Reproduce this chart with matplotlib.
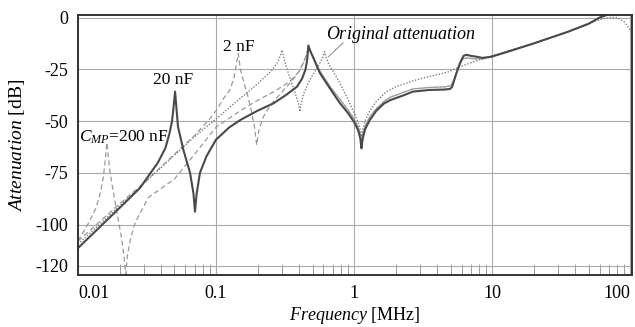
import matplotlib
matplotlib.use("Agg")
import matplotlib.pyplot as plt
from matplotlib.ticker import FixedLocator, LogLocator, NullFormatter

plt.rcParams["font.family"] = "Liberation Serif"
plt.rcParams["mathtext.fontset"] = "custom"
plt.rcParams["mathtext.rm"] = "Liberation Serif"
plt.rcParams["mathtext.it"] = "Liberation Serif:italic"
plt.rcParams["axes.unicode_minus"] = False

# original attenuation (dotted)
orig_f = [0.01, 0.02, 0.035, 0.05, 0.07, 0.1, 0.15, 0.2, 0.25, 0.28, 0.292, 0.30,
          0.307, 0.32, 0.35, 0.38, 0.398, 0.405, 0.412, 0.43, 0.47, 0.52, 0.57,
          0.595, 0.61, 0.625, 0.66, 0.75, 0.88, 1.0, 1.08, 1.11, 1.13, 1.15,
          1.2, 1.3, 1.45, 1.7, 2.0, 2.7, 3.5, 4.7, 6.0, 8.0, 10, 20, 35, 50, 60,
          70, 80, 90, 100, 103]
orig_db = [-109.5, -91, -76, -66.5, -57.5, -49, -39, -32, -26, -21.5, -18.5, -15.7,
           -18.5, -23, -31, -38, -42.5, -45.5, -42, -37, -31, -26, -21.5,
           -19, -16.5, -19, -23, -29, -38, -46, -51.5, -54.5, -57.5, -54.5,
           -50, -45, -40.5, -36, -33.5, -30.5, -28.5, -26.5, -23.5, -20.5, -18.8,
           -12.5, -7, -3, -1, 0, 0, -2, -6, -8]

# C_MP = 20 nF (thick solid)
c20_f = [0.01, 0.02, 0.028, 0.038, 0.043, 0.046, 0.048, 0.049, 0.0505, 0.052,
         0.053, 0.058, 0.0648, 0.0686, 0.0704, 0.0724, 0.0765, 0.0853, 0.1,
         0.125, 0.15, 0.2, 0.26, 0.32, 0.386, 0.42, 0.445, 0.458, 0.466, 0.48,
         0.507, 0.567, 0.68, 0.79, 0.9, 1.0, 1.07, 1.11, 1.13, 1.15, 1.2, 1.3,
         1.45, 1.65, 1.83, 2.3, 2.66, 3.5, 4.5, 4.96, 5.13, 5.5, 5.85, 6.2, 6.5,
         7, 7.8, 8.5, 9.8, 13, 20, 35, 50, 60, 80, 103]
c20_db = [-111.4, -92, -82.5, -70, -63, -56, -50, -44.7, -35.8, -46,
          -52.7, -64, -75, -85, -93.8, -85, -75, -67, -59,
          -53, -49.5, -45, -41.5, -37.5, -33.4, -29.5, -25, -20, -13.5, -16,
          -19.5, -27, -35, -41.4, -46, -50.5, -54.5, -58.5, -63.2, -59, -54, -49.5,
          -45, -41.5, -39.9, -37.5, -35.8, -35, -34.8, -34.5, -33.4, -27, -22, -18.5, -18,
          -18.5, -19, -19.5, -19, -16.5, -12.5, -7, -3, 0, 3, 3]

# C_MP = 200 nF (dashed)
c200_f = [0.01, 0.012, 0.0135, 0.0145, 0.0152, 0.0157, 0.016, 0.0162, 0.0165,
          0.017, 0.018, 0.019, 0.0205, 0.0215, 0.0222, 0.0228, 0.024, 0.026,
          0.0323, 0.05, 0.07, 0.1, 0.15, 0.2, 0.26, 0.34, 0.4, 0.44, 0.458, 0.47,
          0.49, 0.52, 0.567, 0.68, 0.8, 0.9, 1.0, 1.07, 1.11, 1.13, 1.15, 1.2,
          1.3, 1.45, 1.65, 1.83, 2.66, 3.5, 4.5, 5.0, 5.3, 5.7, 6.1, 6.5, 7.5,
          8.5, 10, 20, 35, 50, 60, 80, 103]
c200_db = [-108, -99, -92, -85, -78, -70, -64, -60.5, -66,
           -74, -84, -93, -105, -115, -124, -115, -107, -99,
           -87, -78, -66, -53, -45, -40, -36, -31, -26, -20, -16.5, -14,
           -17, -21, -26, -34, -40, -44.5, -49, -53, -57, -61, -57, -52.5,
           -48, -44, -40.5, -38.5, -34.5, -33.8, -33.5, -33, -30, -24, -20, -19.5, -20,
           -20, -18.5, -12.5, -7, -3, 0, 3, 3]

# C_MP = 2 nF (dashed)
c2_f = [0.01, 0.02, 0.03, 0.05, 0.07, 0.09, 0.1, 0.115, 0.126, 0.135, 0.14,
        0.1435, 0.145, 0.15, 0.16, 0.17, 0.18, 0.19, 0.197, 0.205, 0.22, 0.25,
        0.3, 0.35, 0.4, 0.44, 0.458, 0.47, 0.49, 0.52, 0.567, 0.68, 0.8, 0.9,
        1.0, 1.07, 1.11, 1.13, 1.15, 1.2, 1.3, 1.45, 1.65, 1.83, 2.66, 3.5, 4.5,
        5.0, 5.3, 5.7, 6.1, 6.5, 7.5, 8.5, 10, 20, 35, 50, 60, 80, 103]
c2_db = [-108, -90, -80, -66, -57, -49, -45, -38.5, -35, -29, -23,
         -19, -17.3, -25, -32, -38, -45, -53, -61.6, -54, -48, -42,
         -36, -31, -26, -20.5, -17, -14.5, -17.5, -21.5, -26, -34, -40, -44.5,
         -49, -53, -57, -61, -57, -52.5, -48, -44, -40.5, -38.5, -34.5, -33.8, -33.5,
         -33, -30, -24, -20, -19.5, -20, -20, -18.5, -12.5, -7, -3, 0, 3, 3]

y_ticks = [0, -25, -50, -75, -100, -120]
x_ticks = [0.01, 0.1, 1, 10, 100]
x_labels = ["0.01", "0.1", "1", "10", "100"]

fig = plt.figure(figsize=(6.35, 3.27), dpi=100)
ax = fig.add_axes([0.1228, 0.159, 0.8725, 0.795])

dash = (0, (4, 2.5))
ax.plot(c200_f, c200_db, color="#999999", lw=0.9, ls=dash)
ax.plot(c2_f, c2_db, color="#999999", lw=0.9, ls=dash)
ax.plot(orig_f, orig_db, color="#808080", lw=1.0, ls=(0, (1, 1.2)))
ax.plot(c20_f, c20_db, color="#4a4a4a", lw=1.5)

ax.set_xscale("log")
ax.set_xlim(0.01, 103)
ax.set_ylim(-124.4, 1.2)

ax.xaxis.set_major_locator(FixedLocator(x_ticks))
ax.set_xticklabels(x_labels)
ax.xaxis.set_minor_locator(LogLocator(base=10, subs=range(2, 10)))
ax.xaxis.set_minor_formatter(NullFormatter())
ax.set_yticks(y_ticks)
ax.set_yticklabels([str(v) for v in y_ticks])
xl = ax.get_xticklabels()
xl[0].set_ha("left")
xl[-1].set_ha("right")

ax.tick_params(axis="both", which="major", length=0, labelsize=13, pad=7)
ax.tick_params(axis="x", which="minor", direction="in", length=8, width=0.7,
               color="#999999")
ax.tick_params(axis="y", which="minor", length=0)

ax.grid(True, which="major", color="#aaaaaa", lw=0.8)
ax.set_axisbelow(True)
for s in ax.spines.values():
    s.set_color("#333333")
    s.set_linewidth(1.4)

ax.set_xlabel("$Frequency$ [MHz]", fontsize=13, labelpad=2)
ax.set_ylabel("$Attenuation$ [dB]", fontsize=14, labelpad=6)

ax.text(0.049, -30, "20 nF", fontsize=12.5, ha="center", va="center")
ax.text(0.145, -14, "2 nF", fontsize=12.5, ha="center", va="center")
ax.text(0.0102, -58, "$C_{MP}$=200 nF", fontsize=12.5, ha="left", va="center")
ax.text(0.63, -8, "$Original$ $attenuation$", fontsize=13, ha="left",
        va="center")
ax.plot([0.83, 0.65], [-12.3, -19], color="#888888", lw=0.7)

fig.savefig("out.png", dpi=100)
